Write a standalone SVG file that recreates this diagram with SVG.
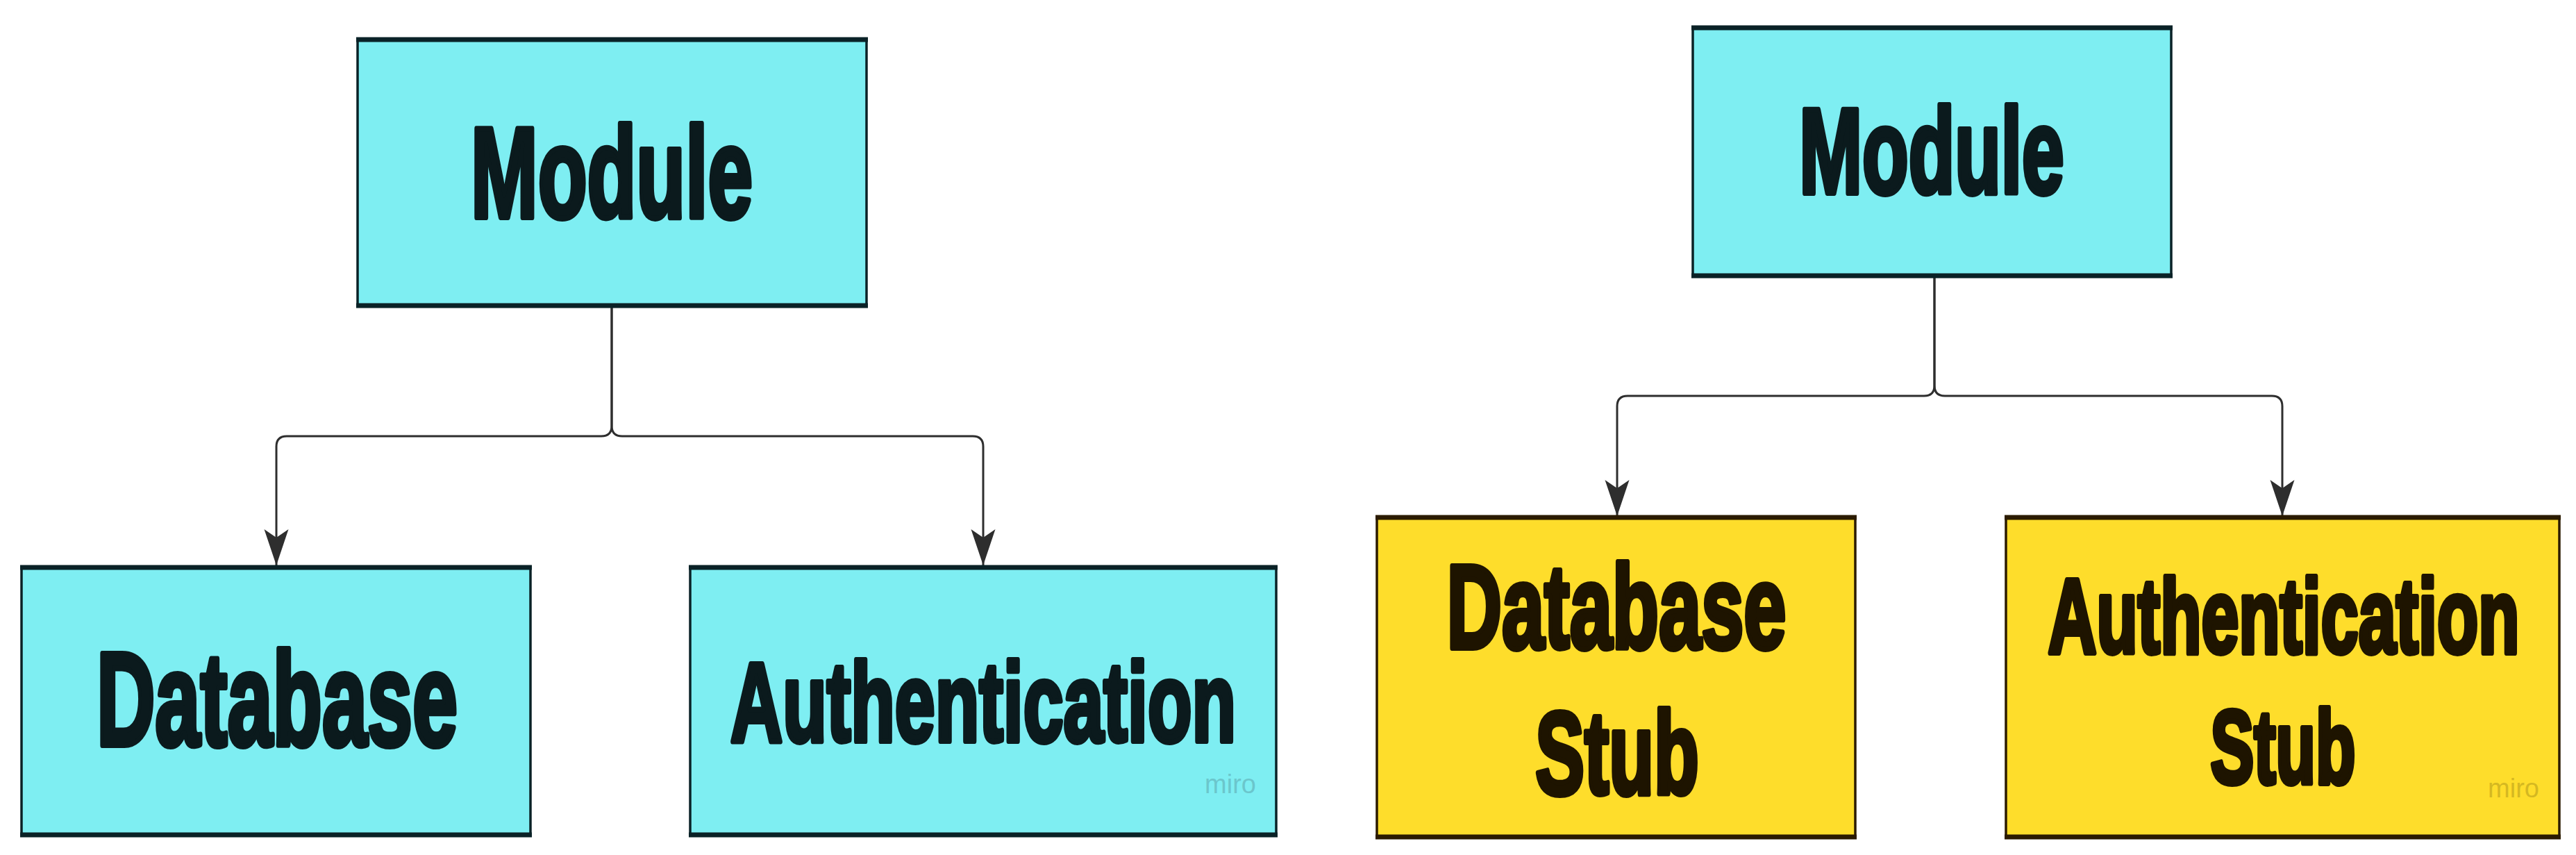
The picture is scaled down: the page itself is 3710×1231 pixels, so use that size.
<svg xmlns="http://www.w3.org/2000/svg" width="3710" height="1231" viewBox="0 0 3710 1231">
<style>
  .cyan { fill: #7eeef2; stroke: #0a2227; stroke-width: 3.5; }
  .yellow { fill: #fedd2b; stroke: #2b1b00; stroke-width: 3.5; }
  .hc { stroke: #0a2227; stroke-width: 7; }
  .hy { stroke: #2b1b00; stroke-width: 7; }
  .lbl { font-family: "Liberation Sans", Arial, sans-serif; font-weight: 700; text-anchor: middle; stroke-width: 5; stroke-linejoin: round; }
  .tc { fill: #0b1a1d; stroke: #0b1a1d; }
  .ty { fill: #1e1400; stroke: #1e1400; }
  .wm { font-family: "Liberation Sans", sans-serif; font-size: 38px; text-anchor: middle; opacity: 0.35; }
  .conn { fill: none; stroke: #2e2e2e; stroke-width: 3; }
</style>
<defs>
  <marker id="arrow" viewBox="0 -18 52 36" refX="52" refY="0" markerWidth="52" markerHeight="36" markerUnits="userSpaceOnUse" orient="auto">
    <path d="M0,-17.5 L52,0 L0,17.5 L12,0 Z" fill="#2e2e2e"/>
  </marker>
</defs>
<rect width="3710" height="1231" fill="#ffffff"/>

<g id="connectors">
  <path class="conn" marker-end="url(#arrow)" d="M881,442 V613 Q881,628 866,628 H413 Q398,628 398,643 V814"/>
  <path class="conn" marker-end="url(#arrow)" d="M881,442 V613 Q881,628 896,628 H1401 Q1416,628 1416,643 V814"/>
  <path class="conn" marker-end="url(#arrow)" d="M2786,398 V555 Q2786,570 2771,570 H2344 Q2329,570 2329,585 V743"/>
  <path class="conn" marker-end="url(#arrow)" d="M2786,398 V555 Q2786,570 2801,570 H3272 Q3287,570 3287,585 V743"/>
</g>

<g id="module-left">
  <rect class="cyan" x="515" y="57" width="733" height="383"/>
  <line class="hc" x1="513" y1="57" x2="1250" y2="57"/>
  <line class="hc" x1="513" y1="440" x2="1250" y2="440"/>
  <text class="lbl tc" transform="translate(881,313) scale(1,1.6)" font-size="116">Module</text>
</g>

<g id="database">
  <rect class="cyan" x="31" y="817" width="733" height="385"/>
  <line class="hc" x1="29" y1="817" x2="766" y2="817"/>
  <line class="hc" x1="29" y1="1202" x2="766" y2="1202"/>
  <text class="lbl tc" transform="translate(399,1073) scale(1,1.63)" font-size="117">Database</text>
</g>

<g id="authentication">
  <rect class="cyan" x="994" y="817" width="844" height="385"/>
  <line class="hc" x1="992" y1="817" x2="1840" y2="817"/>
  <line class="hc" x1="992" y1="1202" x2="1840" y2="1202"/>
  <text class="lbl tc" transform="translate(1416,1067) scale(1,1.56)" font-size="104">Authentication</text>
  <text class="wm" x="1772" y="1142" fill="#4a7f86">miro</text>
</g>

<g id="module-right">
  <rect class="cyan" x="2438" y="40" width="689" height="357"/>
  <line class="hc" x1="2436" y1="40" x2="3129" y2="40"/>
  <line class="hc" x1="2436" y1="397" x2="3129" y2="397"/>
  <text class="lbl tc" transform="translate(2782,278) scale(1,1.6)" font-size="109">Module</text>
</g>

<g id="database-stub">
  <rect class="yellow" x="1983" y="745" width="689" height="460"/>
  <line class="hy" x1="1981" y1="745" x2="2674" y2="745"/>
  <line class="hy" x1="1981" y1="1205" x2="2674" y2="1205"/>
  <text class="lbl ty" transform="translate(2328,933) scale(1,1.56)" font-size="110">Database</text>
  <text class="lbl ty" transform="translate(2329,1143) scale(1,1.6)" font-size="106">Stub</text>
</g>

<g id="authentication-stub">
  <rect class="yellow" x="2889" y="745" width="797" height="460"/>
  <line class="hy" x1="2887" y1="745" x2="3688" y2="745"/>
  <line class="hy" x1="2887" y1="1205" x2="3688" y2="1205"/>
  <text class="lbl ty" transform="translate(3289,940) scale(1,1.56)" font-size="97">Authentication</text>
  <text class="lbl ty" transform="translate(3288,1128) scale(1,1.6)" font-size="94">Stub</text>
  <text class="wm" x="3620" y="1148" fill="#8a7410">miro</text>
</g>
</svg>
